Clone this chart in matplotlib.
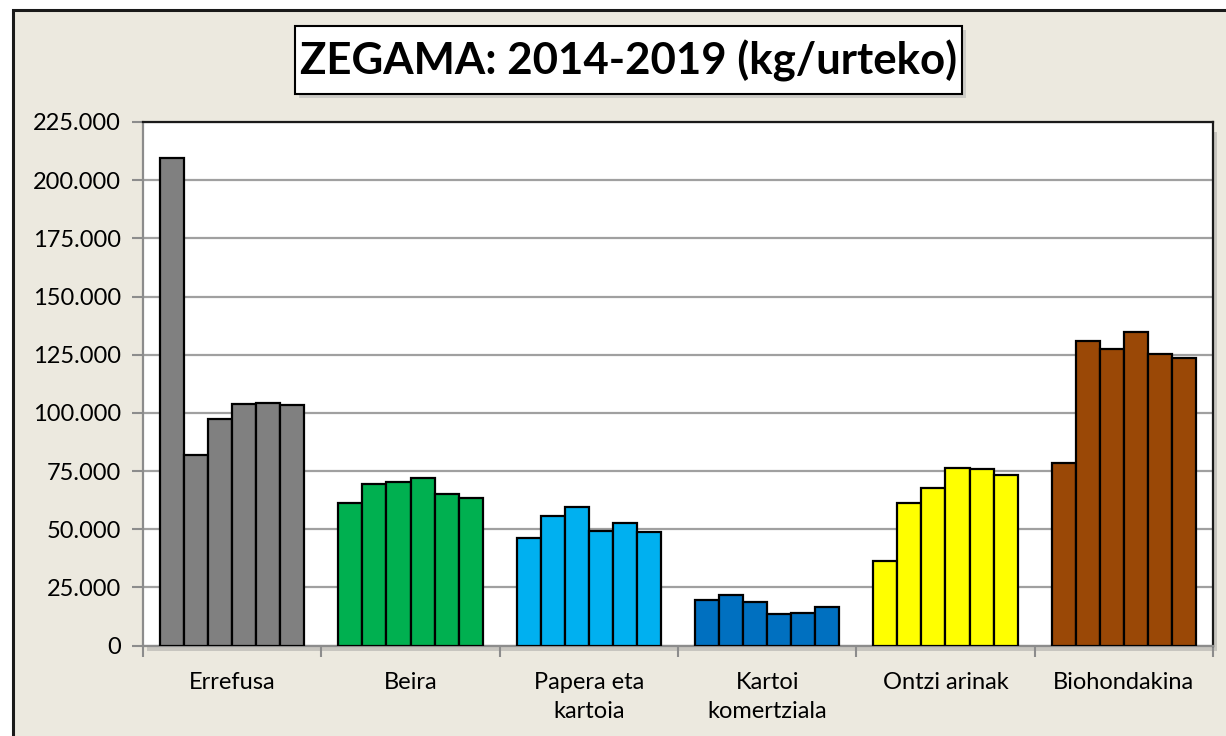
import matplotlib.pyplot as plt
import matplotlib.ticker as mticker
from matplotlib.patches import Rectangle
import numpy as np

plt.rcParams['font.family'] = ['Lato', 'DejaVu Sans']

# data (kg per year, 2014..2019)
categories = ["Errefusa", "Beira", "Papera eta\nkartoia", "Kartoi\nkomertziala", "Ontzi arinak", "Biohondakina"]
years = ["2014", "2015", "2016", "2017", "2018", "2019"]
errefusa = [209400, 81700, 97400, 103700, 104100, 103200]
beira = [61200, 69200, 70100, 72000, 65300, 63600]
papera = [46400, 55700, 59500, 49300, 52600, 48900]
kartoi = [19700, 21700, 18700, 13700, 14100, 16700]
ontzi = [36500, 61200, 67900, 76500, 76000, 73100]
bio = [78600, 130800, 127300, 134700, 125200, 123600]
yticks = [0, 25000, 50000, 75000, 100000, 125000, 150000, 175000, 200000, 225000]

series = [errefusa, beira, papera, kartoi, ontzi, bio]
colors = ["#808080", "#00B050", "#00B0F0", "#0070C0", "#FFFF00", "#9A4806"]

bg = "#ECE9DF"
fig = plt.figure(figsize=(12.26, 7.36), dpi=100)
fig.patch.set_facecolor("white")

# outer chart frame with light shadow
fig.patches.append(Rectangle((16/1226, -0.2), 1.2, 1 - 13/736 + 0.2, transform=fig.transFigure,
                             facecolor="#c8c8c8", edgecolor="none", zorder=0, alpha=0.6))
fig.patches.append(Rectangle((13/1226, -0.2), 1.2, 1 - 10/736 + 0.2, transform=fig.transFigure,
                             facecolor=bg, edgecolor="#1a1a1a", linewidth=2.2, zorder=1))

ax = fig.add_axes([143/1226, 1 - 645.5/736, 1070/1226, (645.5 - 122)/736])
ax.set_zorder(3)
ax.set_facecolor("white")

# plot area shadow
fig.patches.append(Rectangle((147/1226, 1 - 651/736), 1070/1226, (645.5 - 126)/736, transform=fig.transFigure,
                             facecolor="#9a9a9a", edgecolor="none", alpha=0.45, zorder=2))

bw = 24/178.33
for i, vals in enumerate(series):
    xs = i + (np.arange(len(vals)) - 2.5) * bw
    ax.bar(xs, vals, width=bw, color=colors[i], edgecolor="black", linewidth=1.6, zorder=3)

ax.set_xlim(-0.5, len(categories) - 0.5)
ax.set_ylim(0, 225000)
ax.set_yticks(yticks)
ax.yaxis.set_major_formatter(mticker.FuncFormatter(lambda v, p: f"{int(v):,}".replace(",", ".")))
ax.grid(axis="y", color="#a0a0a0", linewidth=1.6, zorder=1)
ax.set_axisbelow(True)

ax.set_xticks(range(len(categories)))
ax.set_xticklabels(categories, linespacing=1.5)
ax.set_xticks(np.arange(-0.5, len(categories)), minor=True)
ax.tick_params(axis="x", which="major", length=0, pad=19, labelsize=17)
ax.tick_params(axis="x", which="minor", length=8, width=1.5, color="#8c8c8c")
ax.tick_params(axis="y", length=8, width=1.5, color="#8c8c8c", labelsize=17, pad=8)

for s in ["left", "bottom"]:
    ax.spines[s].set_color("#8c8c8c")
    ax.spines[s].set_linewidth(1.6)
for s in ["top", "right"]:
    ax.spines[s].set_color("#1a1a1a")
    ax.spines[s].set_linewidth(1.6)

# title box
fig.patches.append(Rectangle((299/1226, 1 - 98/736), 667/1226, 68/736, transform=fig.transFigure,
                             facecolor="#b0b0b0", edgecolor="none", alpha=0.5, zorder=4))
fig.patches.append(Rectangle((295/1226, 1 - 94/736), 667/1226, 68/736, transform=fig.transFigure,
                             facecolor="white", edgecolor="black", linewidth=1.5, zorder=5))
fig.text(628.5/1226, 1 - 61/736, "ZEGAMA: 2014-2019 (kg/urteko)", ha="center", va="center",
         fontsize=31.5, fontweight="bold", zorder=6)

plt.savefig("out.png", dpi=100, facecolor=fig.get_facecolor())
